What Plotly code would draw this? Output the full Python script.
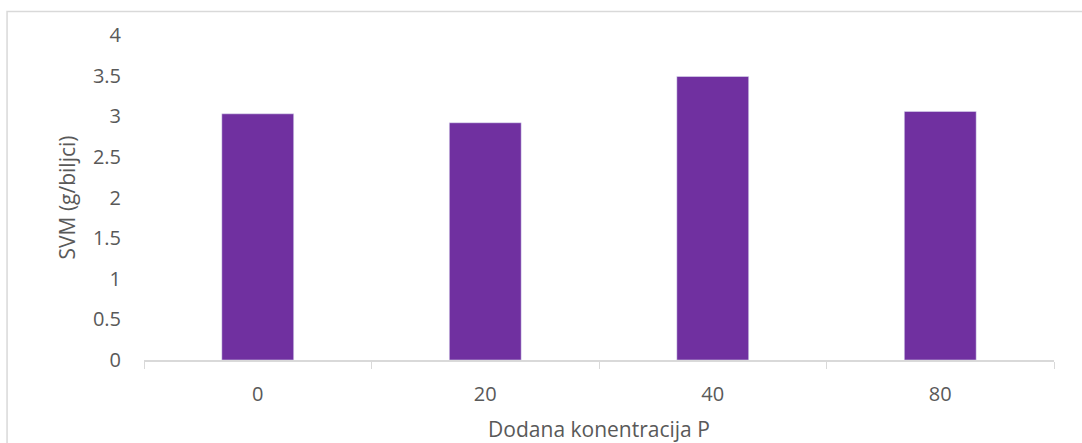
import plotly.graph_objects as go

categories = ["0", "20", "40", "80"]
values = [3.03, 2.92, 3.49, 3.06]
y_ticks = [0, 0.5, 1, 1.5, 2, 2.5, 3, 3.5, 4]
y_tick_labels = ["0", "0.5", "1", "1.5", "2", "2.5", "3", "3.5", "4"]

font_fam = "'Open Sans', Lato, sans-serif"
txt = "#595959"

fig = go.Figure(go.Bar(x=categories, y=values, marker_color="#7030A0", width=0.316))

fig.update_layout(
    width=1082, height=443,
    margin=dict(l=144, r=28, t=35, b=83, autoexpand=False),
    paper_bgcolor="white", plot_bgcolor="white",
    showlegend=False,
    font=dict(family=font_fam, size=20, color=txt),
    bargap=0.684,
)
fig.update_xaxes(
    type="category", automargin=False,
    showline=True, linecolor="#d9d9d9", linewidth=1.5,
    ticks="outside", tickson="boundaries", ticklen=7, tickcolor="#d9d9d9",
    showgrid=False,
    tickfont=dict(size=20, color=txt),
    ticklabelstandoff=15,
    title=dict(text="Dodana konentracija P", font=dict(size=21, color=txt), standoff=21),
)
fig.update_yaxes(
    range=[0, 4], tickvals=y_ticks, ticktext=y_tick_labels, automargin=False,
    showline=False, showgrid=False, zeroline=False,
    tickfont=dict(size=20, color=txt),
    ticklabelstandoff=22,
    title=dict(text="SVM (g/biljci)", font=dict(size=21, color=txt), standoff=11),
)
# outer chart border
fig.add_shape(type="rect", xref="paper", yref="paper",
              x0=-0.1505, x1=1.06, y0=-0.4, y1=1.072,
              line=dict(color="#d9d9d9", width=1.5), fillcolor="rgba(0,0,0,0)", layer="below")

fig.write_html("out.html", config={"displayModeBar": False},
               post_script="document.body.style.margin='0';document.body.style.padding='0';")
